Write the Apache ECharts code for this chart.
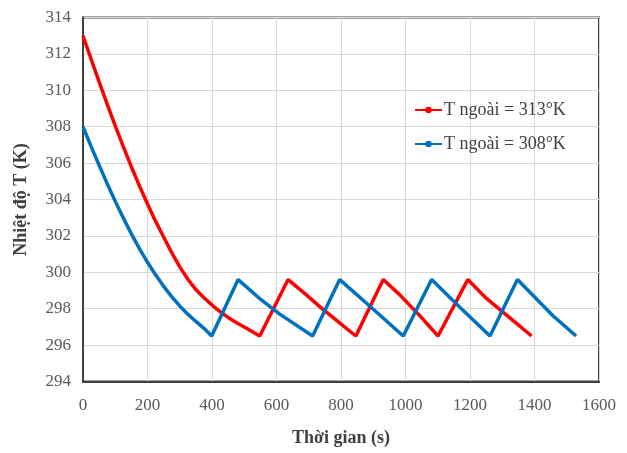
<!DOCTYPE html>
<html>
<head>
<meta charset="utf-8">
<script src="https://cdn.jsdelivr.net/npm/echarts@6/dist/echarts.min.js"></script>
<style>
html,body{margin:0;padding:0;background:#fff;}
#chart{width:627px;height:453px;}
</style>
</head>
<body>
<div id="chart"></div>
<script>
// Series 1: T ngoài = 313°K  (time s, temperature K)
var redTime = [0, 25, 50, 75, 100, 125, 150, 175, 200, 225, 250, 275, 300, 325, 350, 375, 400, 425, 450, 475, 500, 548, 636, 690, 735, 790, 846, 931, 980, 1040, 1101, 1193, 1252, 1320, 1391];
var redTemp = [313, 311.72, 310.46, 309.24, 308.05, 306.9, 305.8, 304.75, 303.75, 302.81, 301.94, 301.08, 300.3, 299.62, 299.05, 298.6, 298.2, 297.84, 297.52, 297.24, 296.99, 296.5, 299.6, 298.8, 298.1, 297.3, 296.5, 299.6, 298.8, 297.7, 296.5, 299.6, 298.55, 297.55, 296.5];
// Series 2: T ngoài = 308°K
var blueTime = [0, 25, 50, 75, 100, 125, 150, 175, 200, 225, 250, 275, 300, 325, 350, 375, 399, 481, 545, 610, 712, 796, 895, 993, 1081, 1170, 1262, 1347, 1458, 1529];
var blueTemp = [308, 306.92, 305.88, 304.87, 303.9, 302.98, 302.11, 301.3, 300.55, 299.86, 299.23, 298.66, 298.15, 297.7, 297.3, 296.92, 296.5, 299.6, 298.6, 297.7, 296.5, 299.6, 298.05, 296.5, 299.6, 298.05, 296.5, 299.6, 297.6, 296.5];
var seriesNames = ['T ngoài = 313°K', 'T ngoài = 308°K'];
var xName = 'Thời gian (s)';
var yName = 'Nhiệt độ T (K)';

function pairs(xs, ys){ return xs.map(function(x,i){ return [x, ys[i]]; }); }

var serif = '"Liberation Serif", "DejaVu Serif", serif';
var chart = echarts.init(document.getElementById('chart'), null, {renderer:'canvas'});
chart.setOption({
  animation: false,
  backgroundColor: '#ffffff',
  grid: {left: 83, right: 28, top: 17.5, bottom: 71.5, show: true, borderColor: '#404040', borderWidth: 2},
  legend: {
    orient: 'vertical', left: 409, top: 96, itemWidth: 27, itemHeight: 8, itemGap: 16,
    textStyle: {fontFamily: serif, fontSize: 18, color: '#404040', padding: [0,0,0,-3]},
    data: seriesNames
  },
  xAxis: {
    type: 'value', min: 0, max: 1600, interval: 200,
    name: xName, nameLocation: 'middle', nameGap: 48,
    nameTextStyle: {fontFamily: serif, fontSize: 18, fontWeight: 'bold', color: '#404040'},
    axisLine: {show: true, lineStyle: {color: '#404040', width: 2}},
    axisTick: {show: false},
    axisLabel: {fontFamily: serif, fontSize: 17, color: '#595959', margin: 16,
      formatter: function(v){ return String(v); }},
    splitLine: {show: true, lineStyle: {color: '#d9d9d9', width: 1}}
  },
  yAxis: {
    type: 'value', min: 294, max: 314, interval: 2,
    name: yName, nameLocation: 'middle', nameGap: 53,
    nameTextStyle: {fontFamily: serif, fontSize: 18, fontWeight: 'bold', color: '#404040'},
    axisLine: {show: true, lineStyle: {color: '#404040', width: 2}},
    axisTick: {show: false},
    axisLabel: {fontFamily: serif, fontSize: 17, color: '#595959', margin: 12,
      formatter: function(v){ return String(v); }},
    splitLine: {show: true, lineStyle: {color: '#d9d9d9', width: 1}}
  },
  series: [
    {name: seriesNames[0], type: 'line', data: pairs(redTime, redTemp), showSymbol: false,
     symbol: 'circle', symbolSize: 4, color: '#ff0000', lineStyle: {color: '#ff0000', width: 3.5}},
    {name: seriesNames[1], type: 'line', data: pairs(blueTime, blueTemp), showSymbol: false,
     symbol: 'circle', symbolSize: 4, color: '#0070c0', lineStyle: {color: '#0070c0', width: 3.5}}
  ]
});
</script>
</body>
</html>
